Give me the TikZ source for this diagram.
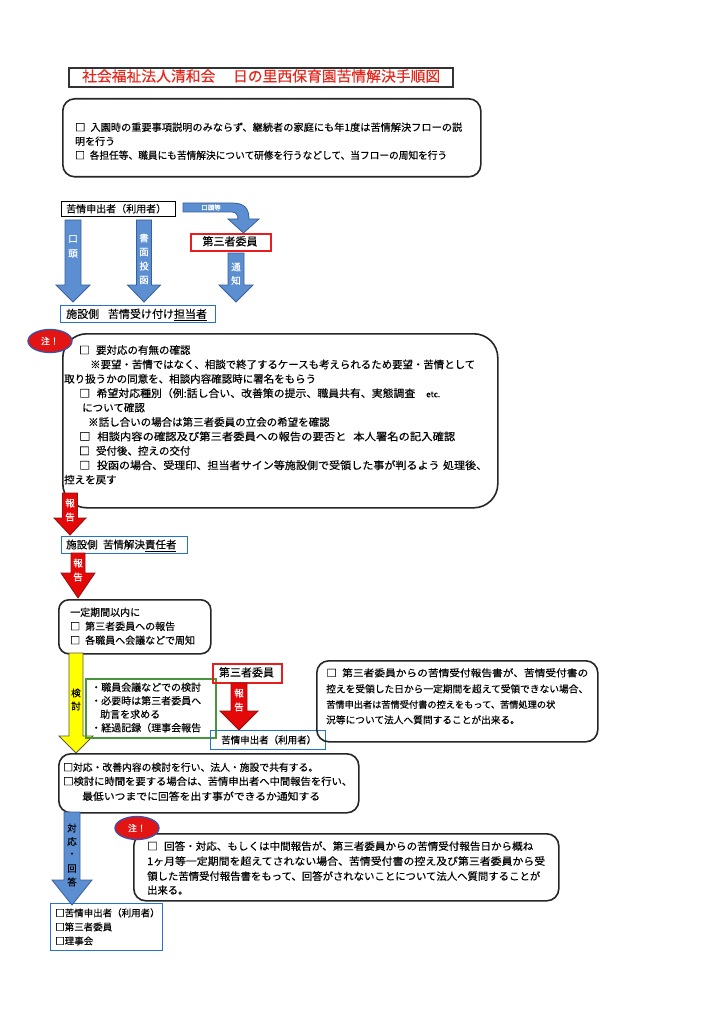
\documentclass[tikz,border=0pt]{standalone}
\usepackage{fontspec}
\setmainfont{Noto Sans CJK JP}[FakeBold=0.3]
\usetikzlibrary{shapes.geometric}
\definecolor{titlered}{RGB}{228,40,30}
\definecolor{bfill}{RGB}{92,142,210}
\definecolor{bline}{RGB}{58,96,155}
\definecolor{rfill}{RGB}{228,8,8}
\definecolor{rline}{RGB}{140,20,20}
\definecolor{yfill}{RGB}{255,255,0}
\definecolor{yline}{RGB}{90,90,60}
\definecolor{boxblue}{RGB}{40,112,205}
\definecolor{boxred}{RGB}{232,30,30}
\definecolor{boxgreen}{RGB}{72,150,60}
\definecolor{ellred}{RGB}{226,20,20}
\definecolor{ellblue}{RGB}{60,82,170}
\newcommand\downblock[7]{%
  \filldraw[#1] (#2-#6,#3) -- (#2+#6,#3) -- (#2+#6,#4) -- (#2+#7,#4) -- (#2,#5)
    -- (#2-#7,#4) -- (#2-#6,#4) -- cycle;}
\newcommand\vtxt[6]{\foreach \c [count=\i from 0] in {#6}
  {\node[vchar,#1] (#2-\i) at (#3,#4+\i*#5) {\c};}}
\newcommand\fitw[2]{\resizebox{#1pt}{\height}{#2}}
\tikzset{
  txt/.style={inner sep=0pt, anchor=base west, font=\fontsize{10}{12}\selectfont},
  bigtxt/.style={txt, font=\fontsize{10.5}{12}\selectfont},
  vchar/.style={inner sep=0pt, font=\fontsize{9.5}{10}\selectfont},
  sqbox/.style={draw, line width=1.4pt, inner sep=0pt, anchor=north west},
  rbox/.style={draw=black!85, line width=1.6pt, inner sep=0pt, anchor=north west, rounded corners=12pt},
  bluearrow/.style={fill=bfill, draw=bline, line width=0.8pt},
  redarrow/.style={fill=rfill, draw=rline, line width=0.8pt},
  yelarrow/.style={fill=yfill, draw=yline, line width=0.8pt},
  note/.style={ellipse, draw=ellblue, fill=ellred, line width=1.3pt, minimum width=44pt,
    minimum height=23pt, inner sep=0pt, text=white, font=\fontsize{9}{10}\selectfont},
}
\begin{document}
\begin{tikzpicture}[x=1pt,y=-1pt]
\useasboundingbox[fill=white] (0,0) rectangle (724,1024);

% title
\node[sqbox, draw=black!80, line width=1.7pt, minimum width=384pt, minimum height=19pt] (titlebox) at (68,67) {};
\node[txt, font=\fontsize{14.5}{16}\selectfont, text=titlered] (title) at (82,81.5)
  {\fitw{358}{社会福祉法人清和会\hspace{1.2em}日の里西保育園苦情解決手順図}};

% intro box
\node[rbox, minimum width=418pt, minimum height=78pt] (intro) at (62,98) {};
\node[txt] (intro1) at (75,131) {\fitw{387}{□\hspace{0.5em}入園時の重要事項説明のみならず、継続者の家庭にも年1度は苦情解決フローの説}};
\node[txt] (intro2) at (75,145) {明を行う};
\node[txt] (intro3) at (75,159) {\fitw{372}{□\hspace{0.5em}各担任等、職員にも苦情解決について研修を行うなどして、当フローの周知を行う}};

% applicant
\node[sqbox, draw=black, minimum width=114pt, minimum height=15pt] (appl) at (61,201) {};
\node[txt] (applt) at (66,212.5) {苦情申出者（利用者）};

% bent arrow
\filldraw[bluearrow] (183,203) -- (232,203) .. controls (244,203) and (249,208) .. (249,219)
  -- (259,219) -- (243.5,233) -- (228,219) -- (238,219)
  .. controls (238,215) and (236,212) .. (232,212) -- (183,212) -- cycle;
\node[inner sep=0pt, text=white, font=\fontsize{6.5}{7}\selectfont] (oral3) at (211,207.5) {口頭等};

% third party 1
\node[sqbox, draw=boxred, line width=1.5pt, minimum width=80pt, minimum height=17pt] (third1) at (190,233) {};
\node[inner sep=0pt, anchor=base, font=\fontsize{11}{12}\selectfont] (third1t) at (230,245.5) {第三者委員};

% three arrows
\downblock{bluearrow}{73}{220}{285}{302}{8}{17}
\downblock{bluearrow}{144}{220}{285}{302}{7.5}{16.5}
\downblock{bluearrow}{236}{253}{285}{302}{8}{17}
\vtxt{text=white}{ora}{73}{239}{14.5}{口,頭}
\vtxt{text=white}{doc}{144}{238}{14}{書,面,投,函}
\vtxt{text=white}{tsu}{236}{267}{13.5}{通,知}

% staff
\node[sqbox, draw=boxblue, minimum width=155pt, minimum height=17pt] (staff) at (60,305) {};
\node[txt, font=\fontsize{11}{12}\selectfont] (stafft) at (66,318) {施設側\hspace{0.8em}苦情受け付け\underline{担当者}};

% big box
\node[rbox, rounded corners=24pt, minimum width=435pt, minimum height=174pt] (check) at (62,333) {};
\node[note] (note1) at (50,341) {注！};
\node[bigtxt] (c1) at (79,354) {□\hspace{0.6em}要対応の有無の確認};
\node[bigtxt] (c2) at (90,368.4) {\fitw{385}{※要望・苦情ではなく、相談で終了するケースも考えられるため要望・苦情として}};
\node[bigtxt] (c3) at (64,382.8) {取り扱うかの同意を、相談内容確認時に署名をもらう};
\node[bigtxt] (c4) at (79,397.2) {\fitw{361}{□\hspace{0.6em}希望対応種別（例:話し合い、改善策の提示、職員共有、実態調査\hspace{1em}{\fontsize{8}{9}\selectfont etc.}}};
\node[bigtxt] (c5) at (82,411.6) {について確認};
\node[bigtxt] (c6) at (88,426) {※話し合いの場合は第三者委員の立会の希望を確認};
\node[bigtxt] (c7) at (79,440.4) {\fitw{376}{□\hspace{0.6em}相談内容の確認及び第三者委員への報告の要否と\hspace{0.6em}本人署名の記入確認}};
\node[bigtxt] (c8) at (79,454.8) {□\hspace{0.6em}受付後、控えの交付};
\node[bigtxt] (c9) at (79,469.2) {\fitw{408}{□\hspace{0.6em}投函の場合、受理印、担当者サイン等施設側で受領した事が判るよう\hspace{0.3em}処理後、}};
\node[bigtxt] (c10) at (64,483.6) {控えを戻す};

% report arrow 1
\downblock{redarrow}{70}{493}{518}{535}{7.5}{16}
\vtxt{text=white}{rep1}{70}{503}{14}{報,告}

% manager
\node[sqbox, draw=boxblue, minimum width=126pt, minimum height=17pt] (mgr) at (61,536) {};
\node[txt, font=\fontsize{10.5}{12}\selectfont] (mgrt) at (66,548.5) {施設側\hspace{0.5em}苦情解決\underline{責任者}};

% report arrow 2
\downblock{redarrow}{78}{553}{573}{598}{7}{17}
\vtxt{text=white}{rep2}{78}{563}{14}{報,告}

% period box
\node[rbox, rounded corners=10pt, minimum width=152pt, minimum height=54pt] (period) at (58,599) {};
\node[txt] (p1) at (70,616) {一定期間以内に};
\node[txt] (p2) at (70,630) {□\hspace{0.5em}第三者委員への報告};
\node[txt] (p3) at (70,644) {□\hspace{0.5em}各職員へ会議などで周知};

% yellow arrow
\downblock{yelarrow}{76}{653}{736}{753}{7}{17}
\vtxt{}{kento}{76}{693}{13}{検,討}

% green box
\node[sqbox, draw=boxgreen, line width=1.5pt, minimum width=130pt, minimum height=59pt] (green) at (85,678) {};
\node[txt] (g1) at (91,691) {・職員会議などでの検討};
\node[txt] (g2) at (91,704.5) {・必要時は第三者委員へ};
\node[txt] (g3) at (100,718) {助言を求める};
\node[txt] (g4) at (91,731.5) {・経過記録（理事会報告};

% third party 2 and report arrow 3
\node[sqbox, draw=boxred, line width=1.5pt, minimum width=69pt, minimum height=19pt] (third2) at (212,663) {};
\node[inner sep=0pt, anchor=base, font=\fontsize{11}{12}\selectfont] (third2t) at (246.5,676.5) {第三者委員};
\downblock{redarrow}{239}{683}{711}{730}{8}{19}
\vtxt{text=white}{rep3}{239}{693}{14}{報,告}
\node[sqbox, draw=boxblue, minimum width=115pt, minimum height=19pt] (appl2) at (210,730) {};
\node[txt, font=\fontsize{9.5}{11}\selectfont] (appl2t) at (221,743.5) {苦情申出者（利用者）};

% right box
\node[rbox, minimum width=281pt, minimum height=81pt] (right) at (316,660) {};
\node[txt, font=\fontsize{9.7}{11}\selectfont] (r1) at (326,676.5) {\fitw{262}{□\hspace{0.5em}第三者委員からの苦情受付報告書が、苦情受付書の}};
\node[txt, font=\fontsize{9.7}{11}\selectfont] (r2) at (326,692.5) {\fitw{262}{控えを受領した日から一定期間を超えて受領できない場合、}};
\node[txt, font=\fontsize{9.2}{11}\selectfont] (r3) at (326,708) {苦情申出者は苦情受付書の控えをもって、苦情処理の状};
\node[txt, font=\fontsize{9.7}{11}\selectfont] (r4) at (326,723.5) {況等について法人へ質問することが出来る。};

% lower box
\node[rbox, minimum width=300pt, minimum height=59pt] (lower) at (58,753) {};
\node[txt] (l1) at (63,771) {\fitw{255}{□対応・改善内容の検討を行い、法人・施設で共有する。}};
\node[txt] (l2) at (63,785) {\fitw{289}{□検討に時間を要する場合は、苦情申出者へ中間報告を行い、}};
\node[txt] (l3) at (82,800) {\fitw{238}{最低いつまでに回答を出す事ができるか通知する}};

% reply arrow
\downblock{bluearrow}{72}{812}{880}{905}{8}{20}
\vtxt{}{reply}{72}{828}{13.5}{対,応,・,回,答}

% lower right box
\node[rbox, minimum width=425pt, minimum height=67pt] (late) at (133,833) {};
\node[note] (note2) at (137,828) {注！};
\node[txt, font=\fontsize{10.3}{12}\selectfont] (k1) at (147,850) {\fitw{386}{□\hspace{0.6em}回答・対応、もしくは中間報告が、第三者委員からの苦情受付報告日から概ね}};
\node[txt, font=\fontsize{10.3}{12}\selectfont] (k2) at (147,865) {\fitw{398}{1ヶ月等一定期間を超えてされない場合、苦情受付書の控え及び第三者委員から受}};
\node[txt, font=\fontsize{10.3}{12}\selectfont] (k3) at (147,880) {\fitw{393}{領した苦情受付報告書をもって、回答がされないことについて法人へ質問することが}};
\node[txt, font=\fontsize{10.3}{12}\selectfont] (k4) at (147,894) {出来る。};

% final box
\node[sqbox, draw=boxblue, minimum width=112pt, minimum height=47pt] (final) at (50,903) {};
\node[txt, font=\fontsize{9.5}{11}\selectfont] (f1) at (55,916.5) {□苦情申出者（利用者）};
\node[txt, font=\fontsize{9.5}{11}\selectfont] (f2) at (55,930.5) {□第三者委員};
\node[txt, font=\fontsize{9.5}{11}\selectfont] (f3) at (55,944.5) {□理事会};
\end{tikzpicture}
\end{document}
